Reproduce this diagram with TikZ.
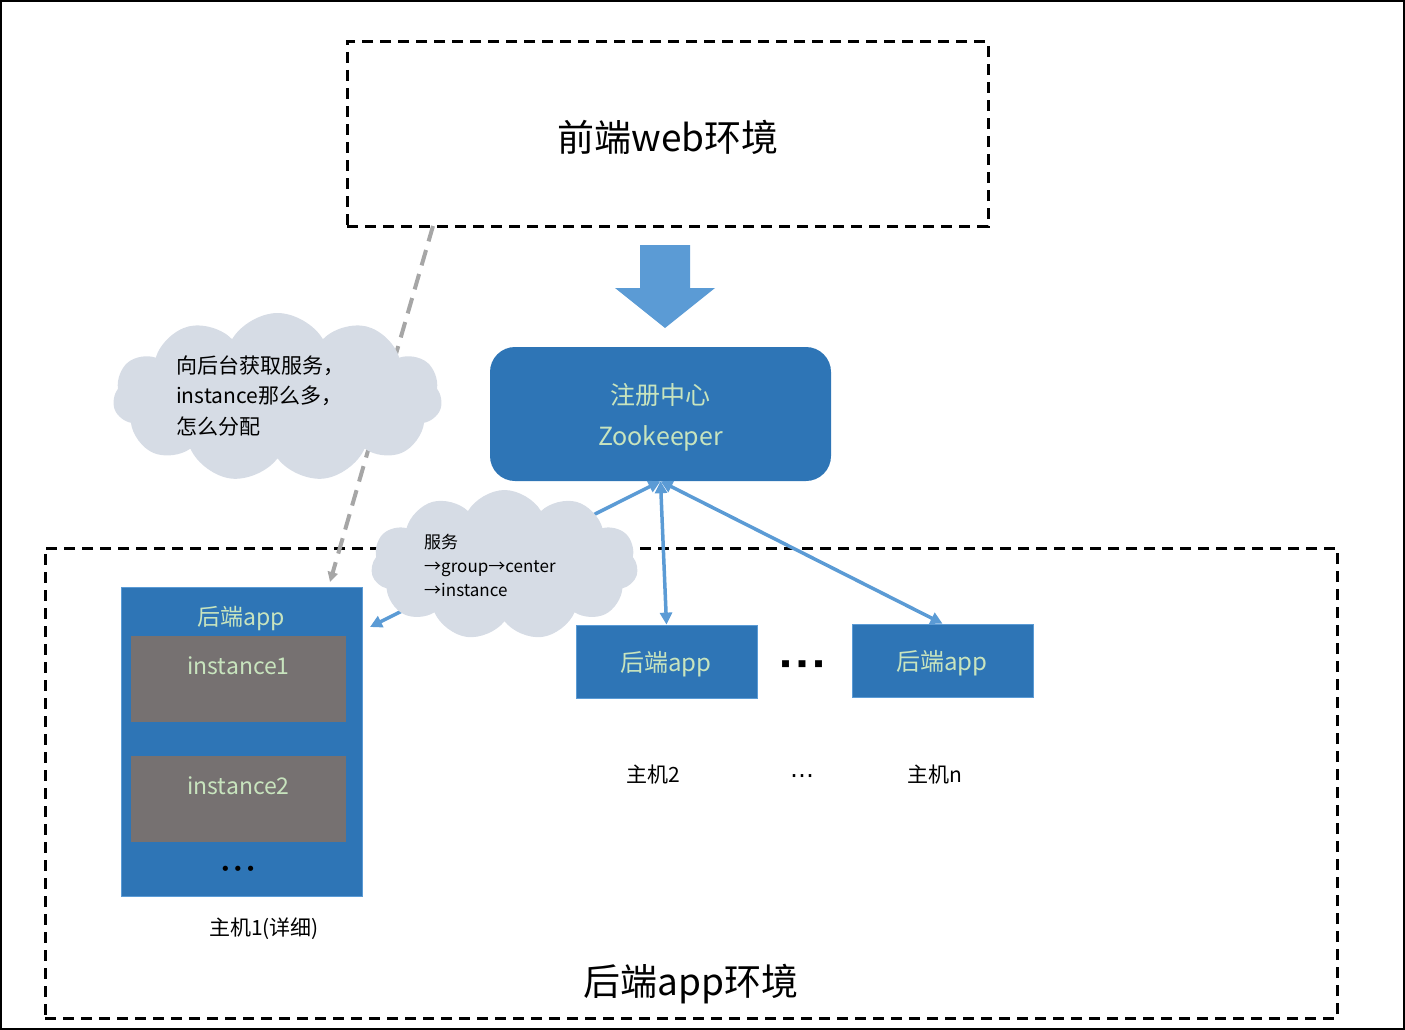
\documentclass[tikz,border=0pt]{standalone}
\usepackage{fontspec}
\setmainfont{Noto Sans CJK SC}
\newfontfamily\dejavu{DejaVu Sans}
\usetikzlibrary{arrows.meta,shapes.symbols}
\definecolor{boxblue}{RGB}{46,117,182}
\definecolor{lineblue}{RGB}{91,155,213}
\definecolor{instgray}{RGB}{118,113,113}
\definecolor{cloudfill}{RGB}{214,220,229}
\definecolor{palegreen}{RGB}{200,228,190}
\definecolor{dashgray}{RGB}{166,166,166}
\newcommand\fs[2]{\fontsize{#1}{#2}\selectfont}
\tikzset{
  dashbox/.style={draw=black, line width=3pt, dash pattern=on 11pt off 7pt},
  hostbox/.style={fill=boxblue, draw=lineblue, line width=0.8pt},
  instbox/.style={fill=instgray, draw=none},
  paletext/.style={text=palegreen, font=\fs{23}{28}},
  cloudbox/.style={cloud, cloud puffs=11, cloud puff arc=120, cloud ignores aspect, fill=cloudfill, draw=none},
  bluearrow/.style={draw=lineblue, line width=3.5pt, {Triangle[length=12pt,width=12pt]}-{Triangle[length=12pt,width=12pt]}},
  grayarrow/.style={draw=dashgray, line width=4pt, dash pattern=on 16pt off 9pt, -{Triangle[length=10pt,width=10pt]}}
}
\begin{document}
\begin{tikzpicture}[x=1pt,y=-1pt]
\useasboundingbox (0,0) rectangle (1405,1030);
\draw[line width=2pt] (1,1) rectangle (1404,1029);

% dashed environment boxes
\node[dashbox, minimum width=641, minimum height=184] (front) at (667.5,134) {};
\node[font=\fs{37}{44}] (frontlabel) at (668,137) {前端web环境};
\node[dashbox, minimum width=1292, minimum height=470] (back) at (691,783) {};
\node[font=\fs{37}{44}] (backlabel) at (691,984) {后端app环境};

% gray dashed connector
\coordinate (gs) at (433,226);
\coordinate (gtip) at (330,582);
\draw[grayarrow] (gs) -- (gtip);

% big down arrow
\fill[lineblue] (640,245) -- (690,245) -- (690,288) -- (715,288) -- (665,328) -- (615,288) -- (640,288) -- cycle;

% zookeeper
\node[fill=boxblue, draw=none, rounded corners=25pt, minimum width=341, minimum height=134] (zk) at (660.5,414) {};
\node[text=palegreen, align=center, font=\fs{25}{41}] (zkt) at (660.5,417) {注册中心\\Zookeeper};

% hosts
\node[hostbox, minimum width=241, minimum height=309] (h1) at (241.5,741.5) {};
\node[hostbox, minimum width=181, minimum height=73] (h2) at (666.5,661.5) {};
\node[paletext, font=\fs{24}{28}] (h2t) at (666,664) {后端app};
\node[hostbox, minimum width=181, minimum height=73] (hn) at (942.5,660.5) {};
\node[paletext, font=\fs{24}{28}] (hnt) at (942,663) {后端app};
\coordinate (h1in) at (370,627);

% blue connectors
\draw[bluearrow] (zk.south) -- (h1in);
\draw[bluearrow] (zk.south) -- (h2.north);
\draw[bluearrow] (zk.south) -- (hn.north);

% clouds
\node[cloudbox, minimum width=329, minimum height=169] (c1) at (277.5,397.5) {};
\node[anchor=west, inner sep=0pt, align=left, font=\fs{21}{30.5}] (c1t) at (176,396) {向后台获取服务，\\instance那么多，\\怎么分配};
\node[cloudbox, minimum width=267, minimum height=150] (c2) at (504.5,565) {};
\node[anchor=west, inner sep=0pt, align=left, font=\fs{17}{24}] (c2t) at (424,565) {服务\\→group→center\\→instance};

% host1 detail
\node[paletext] (h1t) at (241,618) {后端app};
\node[instbox, minimum width=215, minimum height=86] (i1) at (238.5,679) {};
\node[paletext] (i1t) at (238.5,666) {instance1};
\node[instbox, minimum width=215, minimum height=86] (i2) at (238.5,799) {};
\node[paletext] (i2t) at (238.5,786) {instance2};
\node[font=\dejavu\fs{18}{20}] (h1dots) at (238,871) {•\hspace{2pt}•\hspace{2pt}•};

% labels
\node[font=\fs{21}{25}] (h1l) at (264,929) {主机1(详细)};
\node[font=\fs{21}{25}] (h2l) at (653,775) {主机2};
\node[font=\dejavu\fs{24}{28}] (midl) at (802,779) {⋯};
\node[font=\fs{21}{25}] (hnl) at (935,775) {主机n};
\node[font=\dejavu\fs{9}{10}] (sq) at (802,664) {■\hspace{8pt}■\hspace{8pt}■};
\end{tikzpicture}
\end{document}
